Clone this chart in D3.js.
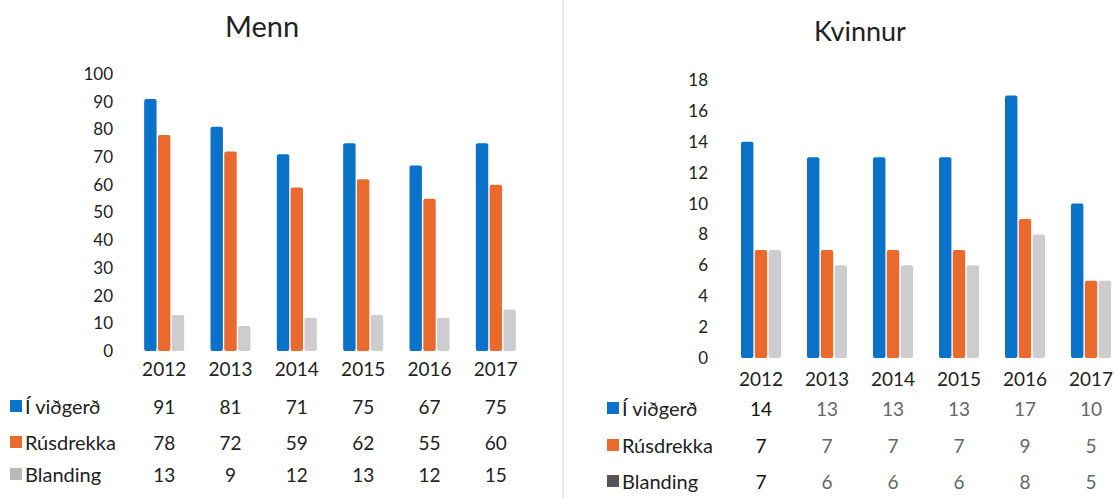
<!DOCTYPE html>
<html>
<head>
<meta charset="utf-8">
<script src="https://cdn.jsdelivr.net/npm/d3@7"></script>
<style>
	body { margin: 0; background: #fff; }
	svg { display: block; font-family: Lato, "Open Sans", sans-serif; }
</style>
</head>
<body>
<div id="graphic"></div>
<script>
// data
const years = ['2012', '2013', '2014', '2015', '2016', '2017'];
const seriesNames = ['Í viðgerð', 'Rúsdrekka', 'Blanding'];
const mennVidgerd = [91, 81, 71, 75, 67, 75];
const mennRusdrekka = [78, 72, 59, 62, 55, 60];
const mennBlanding = [13, 9, 12, 13, 12, 15];
const kvinnurVidgerd = [14, 13, 13, 13, 17, 10];
const kvinnurRusdrekka = [7, 7, 7, 7, 9, 5];
const kvinnurBlanding = [7, 6, 6, 6, 8, 5];
const mennTicks = [0, 10, 20, 30, 40, 50, 60, 70, 80, 90, 100];
const kvinnurTicks = [0, 2, 4, 6, 8, 10, 12, 14, 16, 18];

const colours = ['#0a72c8', '#ea6a2e', '#cdcdcf'];

const svg = d3.select('#graphic').append('svg')
	.attr('width', 1114)
	.attr('height', 498);

// faint scan divider between the two charts
svg.append('line')
	.attr('x1', 563).attr('x2', 563).attr('y1', 0).attr('y2', 498)
	.attr('stroke', '#e4e4e4').attr('stroke-width', 1.5);

function drawPanel(p) {
	const g = svg.append('g');

	const x = d3.scaleBand().domain(years).range(p.xRange);
	const y = d3.scaleLinear().domain(p.yDomain).range(p.yRange);
	const groupWidth = 40;
	const x1 = d3.scaleBand().domain(seriesNames).range([0, groupWidth]).paddingInner(0.1);
	const offset = (x.bandwidth() - groupWidth) / 2;

	// title
	g.append('text')
		.attr('x', p.titleX).attr('y', p.titleY)
		.attr('text-anchor', 'middle')
		.attr('font-size', p.titleSize)
		.attr('fill', '#222')
		.text(p.title);

	// y axis (labels only)
	const yAxis = g.append('g')
		.attr('transform', `translate(${p.yAxisX},0)`)
		.call(d3.axisLeft(y).tickValues(p.ticks).tickSize(0).tickPadding(0));
	yAxis.select('.domain').remove();
	yAxis.selectAll('text')
		.attr('font-size', 17)
		.attr('font-family', 'Lato, sans-serif')
		.attr('fill', '#222');

	// bars
	const table = years.map((yr, i) => ({ year: yr, values: p.series.map((s, j) => ({ name: seriesNames[j], value: s[i] })) }));
	const groups = g.selectAll('g.year').data(table).enter().append('g')
		.attr('class', 'year')
		.attr('transform', d => `translate(${x(d.year) + offset},0)`);
	groups.selectAll('rect').data(d => d.values).enter().append('rect')
		.attr('x', d => x1(d.name))
		.attr('width', x1.bandwidth())
		.attr('y', d => y(d.value))
		.attr('height', d => y(0) - y(d.value))
		.attr('rx', 2)
		.attr('fill', (d, i) => colours[i]);

	// year labels
	const xAxis = g.append('g')
		.attr('transform', `translate(0,${p.yearY})`)
		.call(d3.axisBottom(x).tickSize(0).tickPadding(0));
	xAxis.select('.domain').remove();
	xAxis.selectAll('text')
		.attr('font-size', 19)
		.attr('font-family', 'Lato, sans-serif')
		.attr('dy', 0)
		.attr('fill', '#222');

	// data table rows
	seriesNames.forEach((name, j) => {
		const rowY = p.rowY[j];
		g.append('rect')
			.attr('x', p.keyX).attr('y', rowY - 14)
			.attr('width', 12).attr('height', 12)
			.attr('fill', j === 2 ? p.blandingKey : colours[j]);
		g.append('text')
			.attr('x', p.keyX + 15).attr('y', rowY)
			.attr('font-size', 20)
			.attr('fill', '#222')
			.text(name);
		g.selectAll(null).data(p.series[j]).enter().append('text')
			.attr('x', (d, i) => x(years[i]) + x.bandwidth() / 2)
			.attr('y', rowY)
			.attr('text-anchor', 'middle')
			.attr('font-size', 19)
			.attr('fill', (d, i) => p.valueColour(i))
			.text(d => d);
	});
}

drawPanel({
	title: 'Menn', titleX: 262, titleY: 37, titleSize: 29,
	series: [mennVidgerd, mennRusdrekka, mennBlanding],
	ticks: mennTicks, yDomain: [0, 100], yRange: [351, 74],
	xRange: [131, 529], yAxisX: 113,
	yearY: 376, rowY: [414, 450, 482], keyX: 10,
	blandingKey: '#b9b9bb',
	valueColour: () => '#222'
});

drawPanel({
	title: 'Kvinnur', titleX: 860, titleY: 41, titleSize: 27,
	series: [kvinnurVidgerd, kvinnurRusdrekka, kvinnurBlanding],
	ticks: kvinnurTicks, yDomain: [0, 18], yRange: [358, 80],
	xRange: [728, 1124], yAxisX: 708,
	yearY: 386, rowY: [416, 453, 489], keyX: 607,
	blandingKey: '#555',
	valueColour: i => i === 0 ? '#111' : '#666'
});
</script>
</body>
</html>
